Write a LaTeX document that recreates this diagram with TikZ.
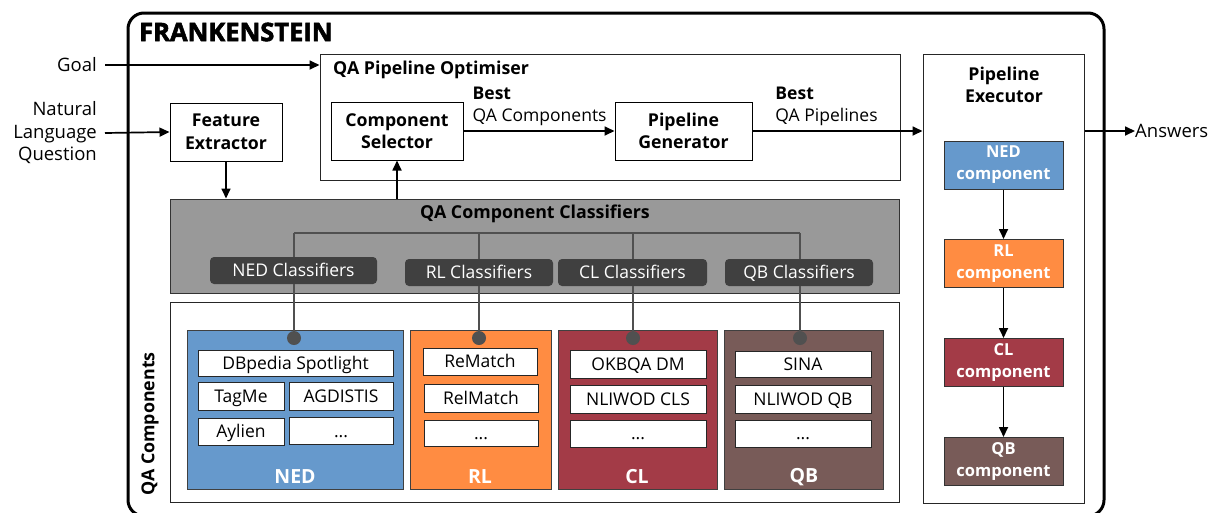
\documentclass[tikz,border=0pt]{standalone}
\usepackage{fontspec}
\setmainfont{Open Sans}
\newfontfamily\titlefont{Open Sans}[BoldFeatures={FakeBold=2.2}]
\usetikzlibrary{arrows.meta}
\definecolor{nedc}{HTML}{6699CC}
\definecolor{rlc}{HTML}{FF8C42}
\definecolor{clc}{HTML}{A33B47}
\definecolor{qbc}{HTML}{785B58}
\definecolor{panelgray}{HTML}{999999}
\definecolor{labgray}{HTML}{404040}
\definecolor{treeline}{HTML}{505050}
\tikzset{
  txt/.style={font=\fontsize{18.5}{22.5}\selectfont},
  boxb/.style={draw=black, fill=white, line width=1pt, align=center, inner sep=0pt,
    font=\bfseries\fontsize{17.7}{22.5}\selectfont},
  frame/.style={draw=black!85, fill=white, line width=1pt},
  arr/.style={-{Triangle[length=10pt,width=9pt]}, line width=1.7pt},
  darklab/.style={fill=labgray, rounded corners=4pt, text=white, inner sep=0pt,
    text height=12.5pt, text depth=0pt, font=\fontsize{17.5}{18}\selectfont},
  item/.style={draw=black!85, fill=white, line width=1pt, inner sep=0pt,
    text height=12.5pt, text depth=0pt, font=\fontsize{17.5}{18}\selectfont},
  catbox/.style={draw=black!75, line width=1pt},
  catlab/.style={text=white, font=\bfseries\fontsize{19.5}{22}\selectfont},
  compbox/.style={draw=black!80, line width=1pt, align=center, inner sep=0pt, text=white,
    minimum width=119pt, minimum height=48pt, font=\bfseries\fontsize{16.5}{22}\selectfont},
  tree/.style={draw=treeline, line width=1.8pt},
  dot/.style={circle, fill=treeline, inner sep=0pt, minimum size=14pt},
}
\begin{document}
\begin{tikzpicture}[x=1pt,y=-1pt]
\useasboundingbox (0,0) rectangle (1212,512);
% outer frame
\draw[line width=3pt, rounded corners=16pt] (128,13) rectangle (1104,516);
\node[anchor=west, inner sep=0pt] (title) at (139,32) {\titlefont\bfseries\fontsize{25.5}{28}\selectfont FRANKENSTEIN};

% inputs
\node[anchor=east, inner sep=0pt, txt] (goal) at (97,65) {Goal};
\node[anchor=east, align=right, inner sep=0pt, txt] (nlq) at (97,133) {Natural\\Language\\Question};

% QA pipeline optimiser
\node[frame, minimum width=580pt, minimum height=126pt, inner sep=0pt] (opt) at (610,117) {};
\node[anchor=west, inner sep=0pt, font=\bfseries\fontsize{17.8}{20}\selectfont] (optt) at (333,70) {QA Pipeline Optimiser};
\node[boxb, minimum width=132pt, minimum height=58pt] (cs) at (397,131) {Component\\Selector};
\node[boxb, minimum width=137pt, minimum height=58pt] (pg) at (683.5,131) {Pipeline\\Generator};
\node[boxb, minimum width=112pt, minimum height=58pt] (fe) at (226,132) {Feature\\Extractor};

% classifiers panel
\node[draw=black!80, fill=panelgray, line width=1pt, minimum width=729pt, minimum height=94pt, inner sep=0pt] (cls) at (534.5,246) {};
\node[inner sep=0pt, font=\bfseries\fontsize{17.8}{20}\selectfont] (clst) at (535,214) {QA Component Classifiers};
\node[darklab, minimum width=167pt, minimum height=27pt] (nedcl) at (293.5,270.5) {NED Classifiers};
\node[darklab, minimum width=148pt, minimum height=27pt] (rlcl) at (479,272.5) {RL Classifiers};
\node[darklab, minimum width=149pt, minimum height=27pt] (clcl) at (632.5,272.5) {CL Classifiers};
\node[darklab, minimum width=148pt, minimum height=27pt] (qbcl) at (799,272.5) {QB Classifiers};
\coordinate (t1) at (294,233);
\coordinate (t2) at (479,233);
\coordinate (t3) at (633,233);
\coordinate (t4) at (800,233);
\draw[tree] (t1) -- (t4);
\draw[tree] (t1) -- (nedcl.north -| t1);
\draw[tree] (t2) -- (rlcl.north -| t2);
\draw[tree] (t3) -- (clcl.north -| t3);
\draw[tree] (t4) -- (qbcl.north -| t4);

% components panel
\node[frame, minimum width=729pt, minimum height=200pt, inner sep=0pt] (comp) at (534.5,402) {};
\node[rotate=90, inner sep=0pt, font=\bfseries\fontsize{17.8}{20}\selectfont] (compt) at (150,424) {QA Components};

\node[catbox, fill=nedc, minimum width=216pt, minimum height=159pt, inner sep=0pt] (ned) at (295,409.5) {};
\node[catbox, fill=rlc, minimum width=141pt, minimum height=159pt, inner sep=0pt] (rl) at (480.5,409.5) {};
\node[catbox, fill=clc, minimum width=159pt, minimum height=159pt, inner sep=0pt] (cl) at (637.5,409.5) {};
\node[catbox, fill=qbc, minimum width=159pt, minimum height=159pt, inner sep=0pt] (qb) at (803.5,409.5) {};
\node[catlab] (nedl) at (295,477) {NED};
\node[catlab] (rll) at (480,477) {RL};
\node[catlab] (cll) at (637,477) {CL};
\node[catlab] (qbl) at (804,477) {QB};

\node[dot] (d1) at (294,338) {};
\node[dot] (d2) at (479,338) {};
\node[dot] (d3) at (633,338) {};
\node[dot] (d4) at (800,338) {};
\draw[tree] (nedcl.south -| d1) -- (d1.center);
\draw[tree] (rlcl.south -| d2) -- (d2.center);
\draw[tree] (clcl.south -| d3) -- (d3.center);
\draw[tree] (qbcl.south -| d4) -- (d4.center);

% NED items
\node[item, minimum width=195pt, minimum height=26pt] (i1) at (295.5,363) {DBpedia Spotlight};
\node[item, minimum width=86pt, minimum height=28pt] (i2) at (241,396) {TagMe};
\node[item, minimum width=104pt, minimum height=28pt] (i3) at (341,396) {AGDISTIS};
\node[item, minimum width=86pt, minimum height=27pt] (i4) at (241,431.5) {Aylien};
\node[item, minimum width=104pt, minimum height=27pt] (i5) at (341,431) {...};
% RL items
\node[item, minimum width=114pt, minimum height=27pt] (r1) at (480,361.5) {ReMatch};
\node[item, minimum width=114pt, minimum height=28pt] (r2) at (481,398) {RelMatch};
\node[item, minimum width=114pt, minimum height=26pt] (r3) at (481,433) {...};
% CL items
\node[item, minimum width=136pt, minimum height=28pt] (c1) at (638,364) {OKBQA DM};
\node[item, minimum width=136pt, minimum height=28pt] (c2) at (638,399) {NLIWOD CLS};
\node[item, minimum width=136pt, minimum height=27pt] (c3) at (638,433.5) {...};
% QB items
\node[item, minimum width=136pt, minimum height=26pt] (q1) at (803,364) {SINA};
\node[item, minimum width=136pt, minimum height=28pt] (q2) at (803,399) {NLIWOD QB};
\node[item, minimum width=136pt, minimum height=27pt] (q3) at (803,433.5) {...};

% pipeline executor
\node[frame, minimum width=161pt, minimum height=449pt, inner sep=0pt] (exe) at (1003.5,278.5) {};
\node[inner sep=0pt, align=center, font=\bfseries\fontsize{17.7}{22.5}\selectfont] (exet) at (1004,85) {Pipeline\\Executor};
\node[compbox, fill=nedc] (e1) at (1003.5,165) {NED\\component};
\node[compbox, fill=rlc] (e2) at (1003.5,263.5) {RL\\component};
\node[compbox, fill=clc] (e3) at (1003.5,362.5) {CL\\component};
\node[compbox, fill=qbc] (e4) at (1003.5,461.5) {QB\\component};
\draw[arr] (e1) -- (e2);
\draw[arr] (e2) -- (e3);
\draw[arr] (e3) -- (e4);

\node[anchor=west, inner sep=0pt, txt] (ans) at (1135,131) {Answers};

% connectors
\coordinate (g0) at ([xshift=8pt]goal.east);
\draw[arr] (g0) -- (g0 -| opt.west);
\coordinate (n0) at ([xshift=8pt]nlq.east);
\draw[arr] (n0) -- (fe.west);
\draw[arr] (fe.south) -- (fe.south |- cls.north);
\draw[arr] (cs.south |- cls.north) -- (cs.south);
\draw[arr] (cs.east) -- (pg.west)
  node[pos=0.055, anchor=south west, align=left, inner sep=0pt, yshift=4pt, font=\fontsize{17.5}{22}\selectfont] (lab1) {\textbf{Best}\\QA Components};
\draw[arr] (pg.east) -- (pg.east -| exe.west)
  node[pos=0.13, anchor=south west, align=left, inner sep=0pt, yshift=4pt, font=\fontsize{17.5}{22}\selectfont] (lab2) {\textbf{Best}\\QA Pipelines};
\draw[arr] (exe.east |- pg.east) -- (ans.west);
\end{tikzpicture}
\end{document}
